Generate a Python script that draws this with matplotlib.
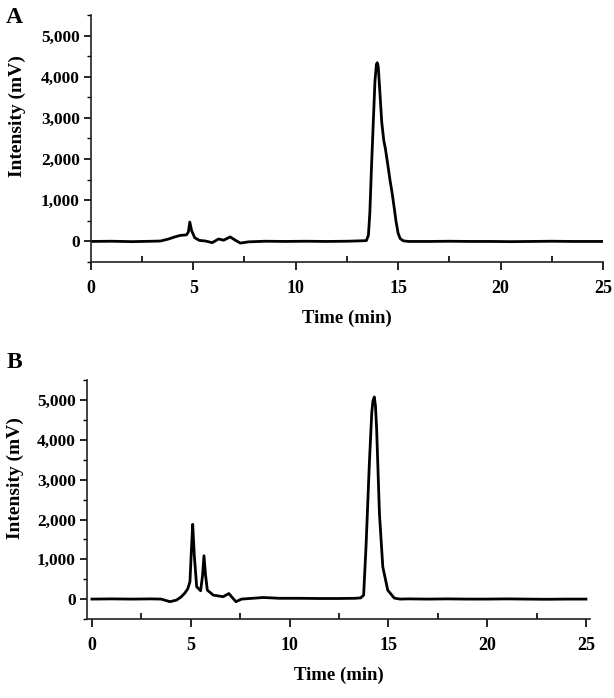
import numpy as np
import matplotlib
matplotlib.use("Agg")
import matplotlib.pyplot as plt
from matplotlib.ticker import MultipleLocator, FuncFormatter

# chromatogram A (time in min, intensity in mV)
time_a = [0, 1, 2, 3, 3.4, 3.8, 4.1, 4.35, 4.67, 4.76, 4.83, 4.92, 5.07, 5.3, 5.6, 5.92,
          6.24, 6.48, 6.8, 7.05, 7.3, 7.7, 8.5, 9.5, 10.5, 11.5, 12.5, 13.2, 13.45, 13.55,
          13.62, 13.7, 13.78, 13.87, 13.94, 13.98, 14.03, 14.1, 14.2, 14.3, 14.38, 14.5,
          14.6, 14.7, 14.8, 14.9, 15.0, 15.1, 15.25, 15.5, 16.5, 17.5, 18.5, 19.5, 20.5,
          21.5, 22.5, 23.5, 25]
int_a = [0, 5, -5, 5, 10, 60, 110, 145, 160, 230, 470, 260, 90, 25, 10, -30,
         60, 30, 110, 30, -40, -10, 5, 0, 5, 0, 5, 15, 20, 150,
         700, 1800, 2800, 3900, 4300, 4340, 4250, 3700, 2900, 2450, 2250, 1850,
         1500, 1200, 850, 480, 200, 70, 15, 0, 0, 5, 0, 0, -5,
         0, 5, 0, 0]

# chromatogram B
time_b = [0, 1, 2, 3, 3.5, 3.95, 4.28, 4.5, 4.7, 4.85, 4.96, 5.04, 5.1, 5.18, 5.3, 5.5,
          5.6, 5.67, 5.75, 5.84, 6.14, 6.64, 6.93, 7.1, 7.29, 7.57, 8.67, 9.5, 10.5,
          11.5, 12.5, 13.3, 13.6, 13.75, 13.87, 14.04, 14.16, 14.22, 14.29, 14.35,
          14.41, 14.55, 14.72, 14.97, 15.3, 15.6, 16, 17, 18, 19, 20, 21, 22, 23, 24, 25]
int_b = [0, 5, 0, 5, 0, -65, -25, 50, 150, 260, 435, 1300, 1880, 1100, 310, 210,
         600, 1090, 600, 225, 100, 60, 140, 40, -65, 0, 40, 20, 20,
         15, 15, 20, 30, 100, 1310, 3410, 4670, 4980, 5080, 4850,
         4250, 2150, 810, 225, 25, 0, 5, 0, 5, 0, 0, 5, 0, -5, 0, 0]

plt.rcParams["font.family"] = ["Liberation Serif", "DejaVu Serif"]
plt.rcParams["font.weight"] = "bold"

fig = plt.figure(figsize=(6.14, 6.98), dpi=100)
ax_a = fig.add_axes([0.148, 0.6246, 0.834, 0.354])
ax_b = fig.add_axes([0.1417, 0.1132, 0.819, 0.342])

thousands = FuncFormatter(lambda v, p: f"{int(v):,}")


def style(ax, t, y, xlim, label_x):
    ax.plot(t, y, color="black", lw=2.0, solid_joinstyle="round")
    ax.set_xlim(*xlim)
    ax.set_ylim(-500, 5500)
    for s in ["top", "right"]:
        ax.spines[s].set_visible(False)
    for s in ["left", "bottom"]:
        ax.spines[s].set_linewidth(1.2)
        ax.spines[s].set_color("#222222")
    ax.xaxis.set_major_locator(MultipleLocator(5))
    ax.xaxis.set_minor_locator(MultipleLocator(2.5))
    ax.yaxis.set_minor_locator(MultipleLocator(500))
    ax.set_yticks([0, 1000, 2000, 3000, 4000, 5000])
    ax.yaxis.set_major_formatter(thousands)
    ax.tick_params(axis="x", which="major", direction="out", length=6, width=1.2, pad=7, labelsize=13)
    ax.tick_params(axis="x", which="minor", direction="in", length=4, width=1.2)
    ax.tick_params(axis="y", which="major", direction="out", length=5, width=1.2, pad=3, labelsize=12.5)
    ax.tick_params(axis="y", which="minor", direction="out", length=3, width=1.0)
    ax.set_xlabel("Time (min)", fontsize=13.5, fontweight="bold", labelpad=9)
    ax.set_ylabel("Intensity (mV)", fontsize=14, fontweight="bold")
    ax.yaxis.set_label_coords(label_x, 0.59)


style(ax_a, time_a, int_a, (0, 25), -0.127)
style(ax_b, time_b, int_b, (-0.25, 25.2), -0.125)

fig.text(0.01, 0.99, "A", fontsize=17, fontweight="bold", va="top")
fig.text(0.01, 0.495, "B", fontsize=17, fontweight="bold", va="top")

fig.savefig("out.png", dpi=100)
